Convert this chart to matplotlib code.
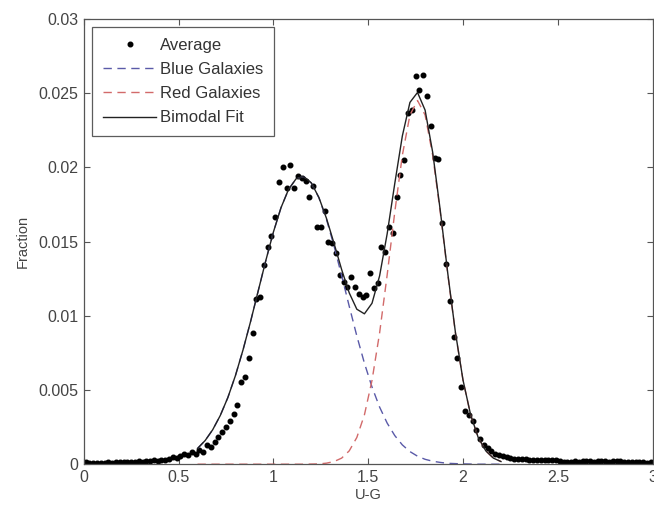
import numpy as np
import matplotlib
matplotlib.use('Agg')
import matplotlib.pyplot as plt
from matplotlib.ticker import FuncFormatter

plt.rcParams['font.family'] = ['Liberation Sans', 'DejaVu Sans']

# binned averages (bin centres every 0.02 in U-G)
avg_x = np.arange(0.01, 3.0, 0.02)
avg_y = [
    0.00012, 0.00008, 0.00010, 0.00006, 0.00011, 0.00009, 0.00014, 0.00010, 0.00016, 0.00012,
    0.00018, 0.00013, 0.00017, 0.00015, 0.00020, 0.00018, 0.00022, 0.00019, 0.00026, 0.00024,
    0.00030, 0.00028, 0.00035, 0.00046, 0.00042, 0.00055, 0.00068, 0.00062, 0.00085, 0.00072,
    0.00098, 0.00080, 0.00128, 0.00115, 0.00150, 0.00180, 0.00215, 0.00250, 0.00288, 0.00340,
    0.00398, 0.00555, 0.00590, 0.00713, 0.00881, 0.01110, 0.01128, 0.01342, 0.01465, 0.01537,
    0.01663, 0.01903, 0.02000, 0.01859, 0.02016, 0.01859, 0.01942, 0.01926, 0.01910, 0.01798,
    0.01874, 0.01596, 0.01600, 0.01708, 0.01499, 0.01488, 0.01420, 0.01274, 0.01230, 0.01195,
    0.01259, 0.01191, 0.01146, 0.01124, 0.01140, 0.01286, 0.01185, 0.01222, 0.01461, 0.01431,
    0.01596, 0.01560, 0.01802, 0.01948, 0.02050, 0.02364, 0.02387, 0.02616, 0.02521, 0.02622,
    0.02481, 0.02279, 0.02061, 0.02055, 0.01623, 0.01348, 0.01101, 0.00854, 0.00713, 0.00517,
    0.00359, 0.00330, 0.00292, 0.00229, 0.00167, 0.00128, 0.00106, 0.00088, 0.00072, 0.00060,
    0.00052, 0.00046, 0.00040, 0.00036, 0.00038, 0.00032, 0.00034, 0.00030, 0.00031, 0.00028,
    0.00030, 0.00027, 0.00028, 0.00025, 0.00027, 0.00022, 0.00018, 0.00012, 0.00015, 0.00020,
    0.00018, 0.00020, 0.00019, 0.00021, 0.00018, 0.00020, 0.00019, 0.00021, 0.00018, 0.00020,
    0.00019, 0.00020, 0.00017, 0.00015, 0.00013, 0.00014, 0.00012, 0.00013, 0.00011, 0.00012,
]

# fitted curves, sampled every 0.04 from 0.6 to 2.2
fit_x = np.arange(0.60, 2.2001, 0.04)
blue_y = [
    0.00106, 0.00159, 0.00232, 0.00328, 0.00449, 0.00597, 0.00770, 0.00962, 0.01167, 0.01371,
    0.01563, 0.01727, 0.01851, 0.01923, 0.01938, 0.01894, 0.01795, 0.01649, 0.01469, 0.01270,
    0.01064, 0.00864, 0.00681, 0.00520, 0.00385, 0.00277, 0.00193, 0.00130, 0.00085, 0.00054,
    0.00033, 0.00020, 0.00012, 0.00006, 0.00004, 0.00002, 0.00001, 0.0, 0.0, 0.0, 0.0,
]
red_y = [
    0.0, 0.0, 0.0, 0.0, 0.0, 0.0, 0.0, 0.0, 0.0, 0.0,
    0.0, 0.0, 0.0, 0.0, 0.0, 0.00001, 0.00002, 0.00007, 0.00018, 0.00041,
    0.00090, 0.00180, 0.00332, 0.00564, 0.00883, 0.01275, 0.01697, 0.02081, 0.02352, 0.02450,
    0.02352, 0.02081, 0.01697, 0.01275, 0.00883, 0.00564, 0.00332, 0.00180, 0.00090, 0.00041,
    0.00018,
]
bimodal_y = [
    0.00106, 0.00159, 0.00232, 0.00328, 0.00449, 0.00597, 0.00770, 0.00962, 0.01167, 0.01371,
    0.01563, 0.01727, 0.01851, 0.01923, 0.01938, 0.01895, 0.01797, 0.01656, 0.01487, 0.01311,
    0.01154, 0.01044, 0.01013, 0.01084, 0.01268, 0.01552, 0.01890, 0.02211, 0.02437, 0.02504,
    0.02385, 0.02101, 0.01709, 0.01281, 0.00887, 0.00566, 0.00333, 0.00180, 0.00090, 0.00041,
    0.00018,
]

fig = plt.figure(figsize=(6.54, 5.09), dpi=100)
ax = fig.add_axes([0.128, 0.088, 0.870, 0.875])

ax.plot(avg_x, avg_y, 'o', color='black', markersize=3.3, label='Average')
ax.plot(fit_x, blue_y, '--', color='#5a5aa8', linewidth=1.0, dashes=(6, 4), label='Blue Galaxies')
ax.plot(fit_x, red_y, '--', color='#d26a6a', linewidth=1.0, dashes=(6, 4), label='Red Galaxies')
ax.plot(fit_x, bimodal_y, '-', color='#222222', linewidth=1.0, label='Bimodal Fit')

ax.set_xlim(0, 3)
ax.set_ylim(0, 0.03)
ax.set_xticks([0, 0.5, 1, 1.5, 2, 2.5, 3])
ax.set_yticks([0, 0.005, 0.01, 0.015, 0.02, 0.025, 0.03])
ax.xaxis.set_major_formatter(FuncFormatter(lambda v, p: '%g' % v))
ax.yaxis.set_major_formatter(FuncFormatter(lambda v, p: '%g' % v))
ax.tick_params(direction='in', top=True, right=True, length=4, width=0.8,
               color='#555555', labelcolor='#444444', labelsize=11.5, pad=4)
for s in ax.spines.values():
    s.set_color('#555555')
    s.set_linewidth(0.9)

ax.set_xlabel('U-G', fontsize=10.5, color='#444444', labelpad=2)
ax.set_ylabel('Fraction', fontsize=10.5, color='#444444', labelpad=6)

leg = ax.legend(loc='upper left', fontsize=12, frameon=True, fancybox=False,
                edgecolor='#333333', handlelength=3.2, handletextpad=0.2,
                labelspacing=0.55, borderpad=0.65, borderaxespad=0.5)
leg.get_frame().set_linewidth(0.9)
for t in leg.get_texts():
    t.set_color('#333333')

fig.savefig('out.png', dpi=100)
